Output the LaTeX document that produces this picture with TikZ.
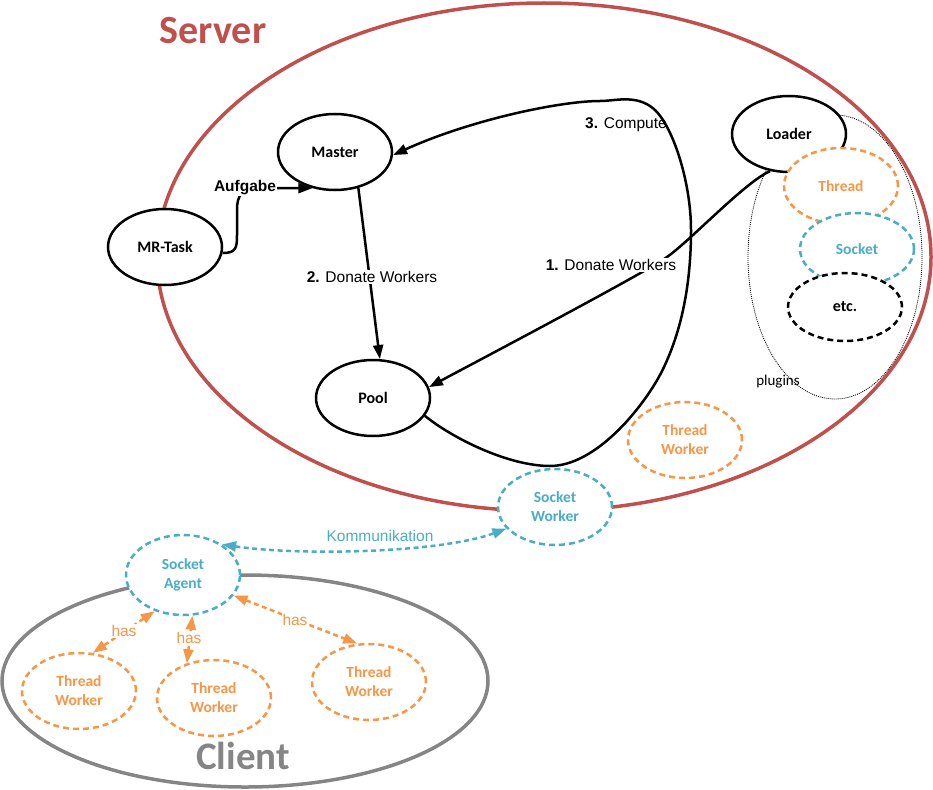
\documentclass[tikz,border=0pt]{standalone}
\usepackage{fontspec}
\setmainfont{Carlito}
\newfontfamily\arialf{Liberation Sans}
\usetikzlibrary{shapes.geometric,arrows.meta}
\definecolor{srvred}{HTML}{C0504D}
\definecolor{thorange}{HTML}{F79646}
\definecolor{skblue}{HTML}{4BACC6}
\definecolor{clgray}{HTML}{858585}
\begin{document}
\begin{tikzpicture}[x=1pt,y=-1pt,
  base/.style={ellipse, inner sep=0pt, minimum width=114pt, minimum height=76pt,
    fill=white, line width=2.5pt, align=center,
    font=\fontsize{16}{19}\selectfont\bfseries},
  solidnode/.style={base, draw=black},
  orangenode/.style={base, draw=thorange, text=thorange, dash pattern=on 6pt off 4pt,
    font=\fontsize{15.5}{19}\selectfont\bfseries},
  bluenode/.style={base, draw=skblue, text=skblue, dash pattern=on 6pt off 4pt,
    font=\fontsize{15.5}{19}\selectfont\bfseries},
  blackdash/.style={base, draw=black, dash pattern=on 6pt off 4pt},
  tipA/.tip={Triangle[length=14pt,width=10pt]},
  arr/.style={-tipA, line width=2.5pt},
  bluearr/.style={tipA-tipA, line width=2.5pt, draw=skblue, dash pattern=on 5pt off 3.5pt},
  hasarr/.style={tipA-tipA, line width=2.5pt, draw=thorange, dash pattern=on 5pt off 3.5pt},
  lbl/.style={font=\arialf\fontsize{15.5}{18}\selectfont, inner sep=1pt},
  haslbl/.style={lbl, text=thorange, fill=white}
]
\useasboundingbox (0,0) rectangle (933,789);

% containers
\node[ellipse, draw=srvred, line width=3.5pt, minimum width=774pt, minimum height=508pt, inner sep=0pt] (server) at (544,257) {};
\node[ellipse, draw=clgray, line width=3.5pt, minimum width=486pt, minimum height=212pt, inner sep=0pt] (client) at (245,681) {};
\node[ellipse, draw=black, line width=0.8pt, dash pattern=on 1pt off 1pt, minimum width=174pt, minimum height=284pt, inner sep=0pt] (plugins) at (835,257) {};

\node[text=srvred, font=\fontsize{40}{48}\selectfont\bfseries, inner sep=0pt] (srvlbl) at (213,31) {Server};
\node[text=clgray, font=\fontsize{39}{46}\selectfont\bfseries, inner sep=0pt] (cllbl) at (243,756) {Client};
\node[font=\fontsize{15}{18}\selectfont, inner sep=0pt] (plugtxt) at (778,382) {plugins};

% server nodes
\node[solidnode] (master) at (335,152) {Master};
\node[solidnode] (mrtask) at (165,247) {MR-Task};
\node[solidnode] (pool) at (373,398) {Pool};
\node[solidnode] (loader) at (789,134) {Loader};
\node[orangenode] (thread) at (841,186) {Thread};
\node[bluenode, minimum height=72pt] (socket) at (857,249) {Socket};
\node[blackdash, minimum height=68pt] (etc) at (845,307) {etc.};
\node[orangenode] (srvtw) at (685,440) {Thread\\Worker};
\node[bluenode] (sworker) at (555,507) {Socket\\Worker};

% client nodes
\node[bluenode, minimum height=80pt] (sagent) at (183,575) {Socket\\Agent};
\node[orangenode] (tw1) at (79,691) {Thread\\Worker};
\node[orangenode] (tw2) at (214,698) {Thread\\Worker};
\node[orangenode] (tw3) at (369,682) {Thread\\Worker};

% connectors
\draw[arr] (mrtask.-6) .. controls (236,253) and (237,248) .. (237,235) -- (237,210)
  .. controls (237,195) and (242,188) .. (260,188) -- (master.238);
\node[lbl, font=\arialf\fontsize{15.5}{18}\selectfont\bfseries, fill=white, inner sep=0.5pt] (aufg) at (245,188) {Aufgabe};

\draw[arr] (master.-57) -- (pool.80);
\node[lbl, fill=white] (don2) at (372,277) {\textbf{2.} Donate Workers};

\draw[arr] (loader.243) .. controls (745,182) and (690,241) .. (667,257)
  .. controls (645,273) and (470,365) .. (pool.11);
\node[lbl, fill=white] (don1) at (611,265) {\textbf{1.} Donate Workers};

\draw[arr] (pool.-19) .. controls (455,440) and (510,466) .. (550,466)
  .. controls (595,466) and (641,410) .. (660,375)
  .. controls (683,331) and (691,280) .. (691,230)
  .. controls (691,180) and (671,119) .. (650,106)
  .. controls (633,95) and (615,101) .. (600,101)
  .. controls (560,101) and (470,120) .. (master.-3);
\node[lbl] (comp) at (626,125) {\textbf{3.} Compute};

\draw[bluearr] (sagent.38) .. controls (300,556) and (440,553) .. (sworker.204);
\node[lbl, text=skblue] (komm) at (380,536) {Kommunikation};

\draw[hasarr] (sagent.232) -- (tw1.70);
\draw[hasarr] (sagent.283) -- (tw2.128);
\draw[hasarr] (sagent.-22) -- (tw3.107);
\node[haslbl] (has1) at (124,631) {has};
\node[haslbl] (has2) at (189,638) {has};
\node[haslbl] (has3) at (295,620) {has};
\end{tikzpicture}
\end{document}
